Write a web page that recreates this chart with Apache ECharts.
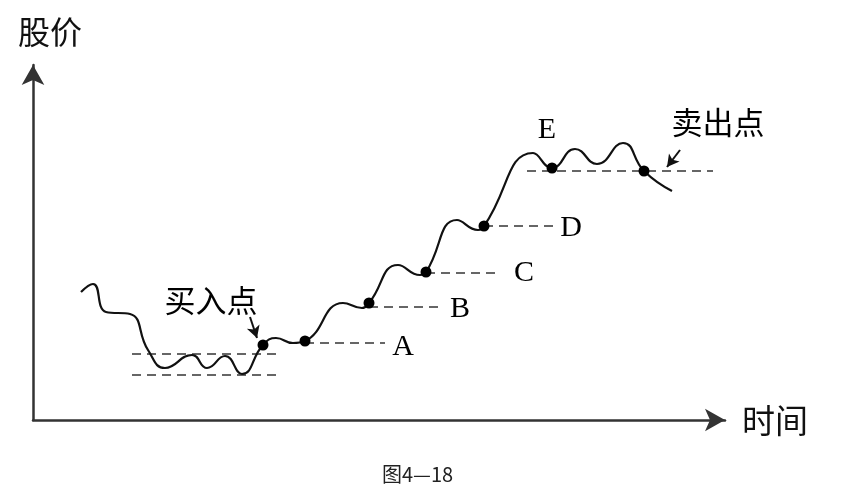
<!DOCTYPE html>
<html>
<head>
<meta charset="utf-8">
<script src="https://cdn.jsdelivr.net/npm/echarts@6/dist/echarts.min.js"></script>
<style>html,body{margin:0;padding:0;background:#fff;}#c{width:855px;height:490px;}</style>
</head>
<body>
<div id="c"></div>
<script>
// Schematic price path (time, price) in arbitrary units
var pricePath = [
  [48,128],[60,136],[73,108],[97,106],[115,70],[132,52],[159,65],[174,52],[192,64],[209,46],
  [230,75],[243,82],[260,77],[272,79],[310,117],[329,112],[336,117],[365,155],[387,145],[393,148],
  [424,200],[445,190],[451,194],[500,267],[519,252],[542,271],[564,256],[590,277],[611,249],[639,229]
];
// Key points (dots)
var keyPoints = [[230,75],[272,79],[336,117],[393,148],[451,194],[519,252],[611,249]];
// Dashed support levels: [time, price]
var buyRangeUpper = [[99,66],[245,66]];
var buyRangeLower = [[99,45],[245,45]];
var levelA = [[272,77],[352,77]];
var levelB = [[336,113],[407,113]];
var levelC = [[393,147],[467,147]];
var levelD = [[451,194],[520,194]];
var levelE = [[494,249],[680,249]];
// Letter labels
var letterNames = ['A','B','C','D','E'];
var letterPos = [[370,73],[427,111],[491,147],[538,192],[514,290]];
// Annotation texts and arrows
var noteTexts = ['买入点','卖出点'];
var notePos = [[178,120],[685,298]];
var buyArrow = [[217,103],[224,82]];
var sellArrow = [[647,270],[634,253]];
var axisNames = ['时间','股价'];
var caption = '图4—18';

var chart = echarts.init(document.getElementById('c'));
var dash = {color:'#666', width:2.2, type:[9,6]};
function dashed(d){ return {type:'line', data:d, symbol:'none', lineStyle:dash, silent:true, z:1}; }
function arrow(a){
  return {type:'line', data:[], markLine:{silent:true, symbol:['none','arrow'], symbolSize:[10,12],
    label:{show:false}, lineStyle:{color:'#111', width:2, type:'solid'},
    data:[[{coord:a[0]},{coord:a[1]}]]}};
}
function textSeries(pos, names, font, size){
  return {type:'scatter', symbolSize:0, z:5, itemStyle:{opacity:1},
    data:pos.map(function(p,i){return {value:p, name:names[i]};}),
    label:{show:true, position:'inside', formatter:'{b}', fontFamily:font, fontSize:size, color:'#000', opacity:1}};
}
chart.setOption({
  animation:false,
  backgroundColor:'#fff',
  title:{text:caption, left:377, top:459, textStyle:{fontFamily:'Noto Sans CJK SC', fontSize:20, fontWeight:'normal', color:'#222'}},
  grid:{left:33, top:65, width:692, height:355},
  xAxis:{type:'value', min:0, max:692, name:axisNames[0], nameLocation:'end', nameGap:17,
    nameTextStyle:{fontFamily:'Noto Sans CJK SC', fontSize:33, color:'#111'},
    axisLine:{lineStyle:{color:'#333', width:2.5}, symbol:['none','arrow'], symbolSize:[17,20]},
    axisTick:{show:false}, axisLabel:{show:false}, splitLine:{show:false}},
  yAxis:{type:'value', min:0, max:355, name:axisNames[1], nameLocation:'end', nameGap:17,
    nameTextStyle:{fontFamily:'Noto Sans CJK SC', fontSize:32, color:'#111', padding:[0,0,0,34]},
    axisLine:{lineStyle:{color:'#333', width:2.5}, symbol:['none','arrow'], symbolSize:[17,20]},
    axisTick:{show:false}, axisLabel:{show:false}, splitLine:{show:false}},
  series:[
    dashed(buyRangeUpper), dashed(buyRangeLower), dashed(levelA), dashed(levelB),
    dashed(levelC), dashed(levelD), dashed(levelE),
    {type:'line', data:pricePath, smooth:0.5, symbol:'none',
     lineStyle:{color:'#111', width:2.2}, z:3},
    {type:'scatter', data:keyPoints, symbol:'circle', symbolSize:11, itemStyle:{color:'#000', opacity:1}, z:4},
    textSeries(letterPos, letterNames, 'Liberation Serif', 30),
    textSeries(notePos, noteTexts, 'Noto Sans CJK SC', 31),
    arrow(buyArrow), arrow(sellArrow)
  ]
});
</script>
</body>
</html>
